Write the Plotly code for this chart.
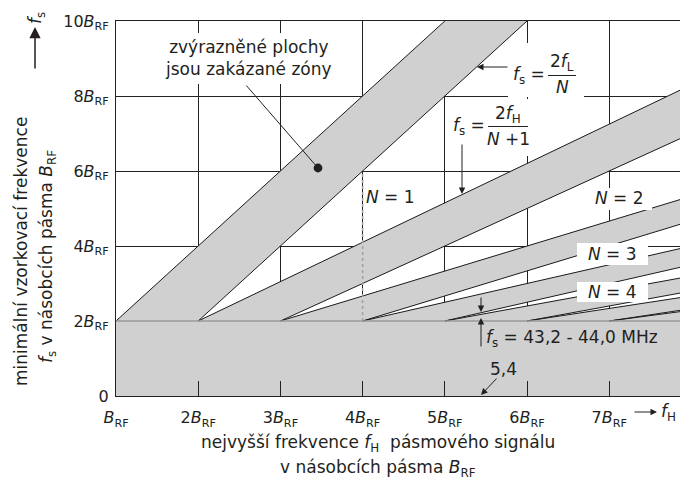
import plotly.graph_objects as go

# ---------------- data (units of B_RF) ----------------
# wedge 1 (N = 1): two edges
w1_left_x = [1, 5]
w1_left_y = [2, 10]
w1_right_x = [2, 6]
w1_right_y = [2, 10]

# wedges N = 2..7 : edges start on fs = 2 and are read at fH = 8
wedge_N = [2, 3, 4, 5, 6, 7]
upper_start_x = [2, 3, 4, 5, 6, 7]
lower_start_x = [3, 4, 5, 6, 7, 8]
edge_end_x = 8
upper_end_fs = [8.3, 5.33, 4.0, 3.2, 2.67, 2.29]
lower_end_fs = [7.0, 4.67, 3.5, 2.8, 2.33, 2.0]

# bottom band (fs below 2 B_RF)
band_x = [1, 8, 8, 1]
band_y = [0, 0, 2, 2]

x_tickvals = [1, 2, 3, 4, 5, 6, 7]
x_ticktext = ["<i>B</i><sub>RF</sub>", "2<i>B</i><sub>RF</sub>", "3<i>B</i><sub>RF</sub>",
              "4<i>B</i><sub>RF</sub>", "5<i>B</i><sub>RF</sub>", "6<i>B</i><sub>RF</sub>",
              "7<i>B</i><sub>RF</sub>"]
y_tickvals = [0, 2, 4, 6, 8, 10]
y_ticktext = ["0", "2<i>B</i><sub>RF</sub>", "4<i>B</i><sub>RF</sub>", "6<i>B</i><sub>RF</sub>",
              "8<i>B</i><sub>RF</sub>", "10<i>B</i><sub>RF</sub>"]

# ---------------- style ----------------
FONT = "DejaVu Sans, Verdana, sans-serif"
TXT = "#231f20"
GRAY = "#d0d0d0"
EDGE = "#1a1a1a"
FS = 17

# plot area in pixels
L, T, W, H = 116, 21, 564, 375
X_MAX = 1 + W / 82.2


def px(x):
    return (x - L) / W


def py(y):
    return (T + H - y) / H


fig = go.Figure()

# bottom band
fig.add_trace(go.Scatter(x=band_x, y=band_y, fill="toself", fillcolor=GRAY,
                         mode="lines", line=dict(width=0), hoverinfo="skip"))

# wedge 1
fig.add_trace(go.Scatter(x=w1_left_x + w1_right_x[::-1], y=w1_left_y + w1_right_y[::-1],
                         fill="toself", fillcolor=GRAY, mode="lines", line=dict(width=0),
                         hoverinfo="skip"))
fig.add_trace(go.Scatter(x=w1_left_x + [None] + w1_right_x, y=w1_left_y + [None] + w1_right_y,
                         mode="lines", line=dict(color=EDGE, width=1), hoverinfo="skip"))

# wedges 2..7
for n, ux, lx, ue, le in zip(wedge_N, upper_start_x, lower_start_x, upper_end_fs, lower_end_fs):
    fig.add_trace(go.Scatter(x=[ux, edge_end_x, edge_end_x, lx], y=[2, ue, le, 2],
                             fill="toself", fillcolor=GRAY, mode="lines", line=dict(width=0),
                             hoverinfo="skip"))
for n, ux, lx, ue, le in zip(wedge_N, upper_start_x, lower_start_x, upper_end_fs, lower_end_fs):
    fig.add_trace(go.Scatter(x=[ux, edge_end_x, None, lx, edge_end_x], y=[2, ue, None, 2, le],
                             mode="lines", line=dict(color=EDGE, width=1), hoverinfo="skip"))

shapes = []
# line at fs = 2 B_RF
shapes.append(dict(type="line", xref="x", yref="y", x0=1, x1=8, y0=2, y1=2,
                   line=dict(color="#9a9a9a", width=1.5), layer="above"))
# dotted marker at fH = 4
shapes.append(dict(type="line", xref="x", yref="y", x0=4, x1=4, y0=2, y1=6,
                   line=dict(color="#a0a0a0", width=1.5, dash="dot"), layer="above"))


def white_box(x0, y0, x1, y1):
    shapes.append(dict(type="rect", xref="paper", yref="paper", x0=px(x0), x1=px(x1),
                       y0=py(y1), y1=py(y0), fillcolor="white", line=dict(width=0),
                       layer="above"))


white_box(154, 33, 342, 84)      # zakázané zóny label
white_box(508, 43, 584, 97)      # fs = 2fL/N
white_box(452, 99, 534, 156)     # fs = 2fH/(N+1)
white_box(587, 188, 652, 210)    # N = 2
white_box(577, 243, 648, 265)    # N = 3
white_box(577, 282, 648, 302)    # N = 4

# fraction bars
shapes.append(dict(type="line", xref="paper", yref="paper", x0=px(548), x1=px(576),
                   y0=py(75.5), y1=py(75.5), line=dict(color=TXT, width=1), layer="above"))
shapes.append(dict(type="line", xref="paper", yref="paper", x0=px(488), x1=px(528),
                   y0=py(126.5), y1=py(126.5), line=dict(color=TXT, width=1), layer="above"))

ann = []


def text(x, y, s, size=FS, angle=0, xanchor="center", yanchor="middle"):
    ann.append(dict(xref="paper", yref="paper", x=px(x), y=py(y), text=s, showarrow=False,
                    font=dict(family=FONT, size=size, color=TXT), textangle=angle,
                    xanchor=xanchor, yanchor=yanchor))


def arrow(tip_x, tip_y, tail_x, tail_y, head=2, size=1.3, width=1):
    ann.append(dict(xref="paper", yref="paper", x=px(tip_x), y=py(tip_y), text="",
                    showarrow=True, ax=tail_x - tip_x, ay=tail_y - tip_y,
                    arrowhead=head, arrowsize=size, arrowwidth=width, arrowcolor=TXT,
                    standoff=0, startstandoff=0))


# label for forbidden zones
text(248, 58, "zvýrazněné plochy<br>jsou zakázané zóny")
arrow(318, 168, 245, 84, head=6, size=2.2)

# fs = 2 fL / N
text(547, 75, "<i>f</i><sub>s</sub> =", xanchor="right")
text(562, 63, "2<i>f</i><sub>L</sub>")
text(562, 87, "<i>N</i>")
arrow(477, 67, 509, 67)

# fs = 2 fH / (N+1)
text(487, 127, "<i>f</i><sub>s</sub> =", xanchor="right")
text(508, 114, "2<i>f</i><sub>H</sub>")
text(508, 139, "<i>N</i> +1")
arrow(462, 194, 462, 143)

# N labels
text(390, 197, "<i>N</i> = 1")
text(619, 198, "<i>N</i> = 2")
text(612, 254, "<i>N</i> = 3")
text(612, 292, "<i>N</i> = 4")

# 43,2 - 44,0 MHz
text(484, 338, "<i>f</i><sub>s</sub> = 43,2 - 44,0 MHz", xanchor="left")
arrow(481, 312, 481, 296)
arrow(481, 318, 481, 348)
text(503, 369, "5,4")
arrow(481, 395, 498, 377)

# axis arrows
arrow(35, 27, 35, 70, size=1.5, width=1.5)
text(37, 18, "<i>f</i><sub>s</sub>", angle=-90)
arrow(657, 412, 633, 412)
text(659, 413, "<i>f</i><sub>H</sub>", xanchor="left")

# axis titles
text(21, 252, "minimální vzorkovací frekvence", angle=-90)
text(47, 257, "<i>f</i><sub>s</sub> v násobcích pásma <i>B</i><sub>RF</sub>", angle=-90)
text(378, 443, "nejvyšší frekvence <i>f</i><sub>H</sub>  pásmového signálu")
text(378, 468, "v násobcích pásma <i>B</i><sub>RF</sub>")

fig.update_layout(
    width=680, height=486,
    margin=dict(l=L, r=680 - L - W, t=T, b=486 - T - H),
    paper_bgcolor="white", plot_bgcolor="white",
    showlegend=False,
    shapes=shapes, annotations=ann,
    font=dict(family=FONT, size=FS, color=TXT),
)
fig.update_xaxes(range=[1, X_MAX], tickvals=x_tickvals, ticktext=x_ticktext,
                 showgrid=True, gridcolor="#222", gridwidth=1, zeroline=False,
                 showline=True, linecolor="#222", linewidth=1, mirror=True,
                 ticks="inside", ticklen=15, tickcolor="#222", ticklabelstandoff=7,
                 tickfont=dict(family=FONT, size=16, color=TXT), automargin=False,
                 fixedrange=True)
fig.update_yaxes(range=[0, 10], tickvals=y_tickvals, ticktext=y_ticktext,
                 showgrid=True, gridcolor="#222", gridwidth=1, zeroline=False,
                 showline=True, linecolor="#222", linewidth=1, ticks="",
                 ticklabelstandoff=3,
                 tickfont=dict(family=FONT, size=16, color=TXT), automargin=False,
                 fixedrange=True)

fig.write_html("out.html")
